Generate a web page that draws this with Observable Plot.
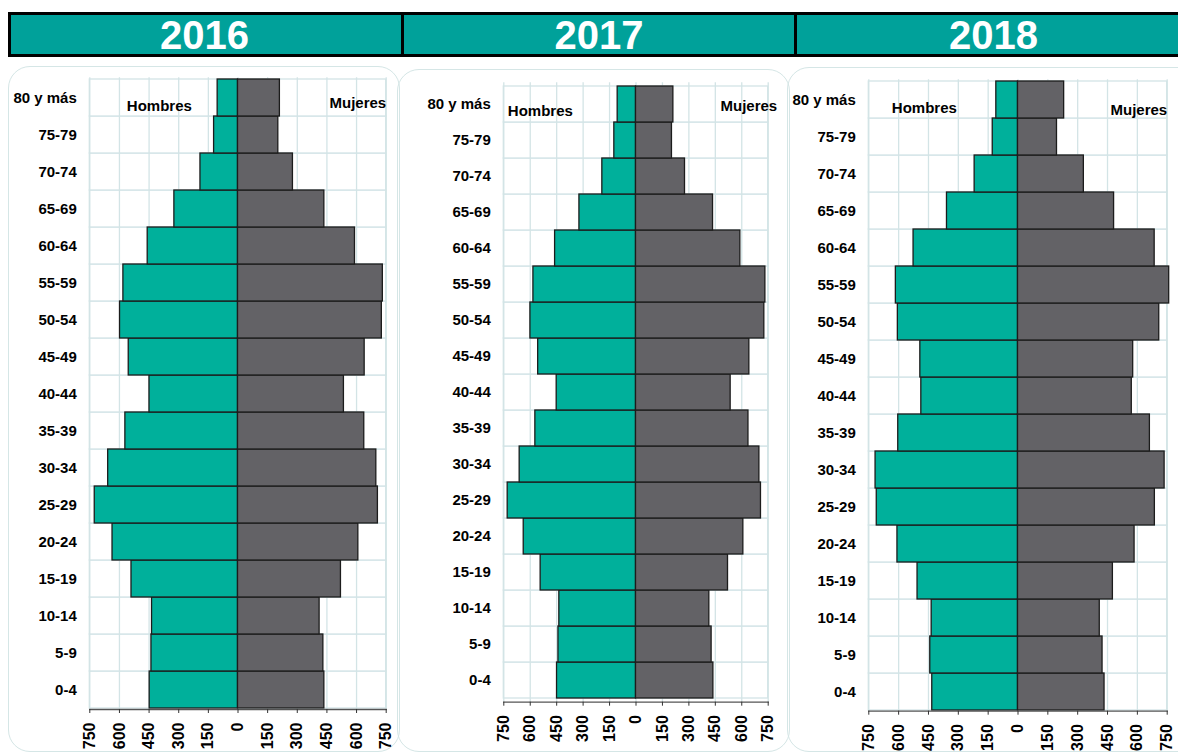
<!DOCTYPE html>
<html><head><meta charset="utf-8">
<script src="https://cdn.jsdelivr.net/npm/d3@7"></script>
<script src="https://cdn.jsdelivr.net/npm/@observablehq/plot@0.6"></script>
<style>
body{margin:0;background:#fff;}
#root{position:relative;width:1178px;height:753px;overflow:hidden;font-family:"Liberation Sans",Arial,sans-serif;}
.panel{position:absolute;border:1.5px solid #d5e6e6;border-radius:22px;box-sizing:border-box;}
.hdr{position:absolute;top:12px;height:45px;left:8px;width:1200px;border:3px solid #000;box-sizing:border-box;background:#00A19A;}
.yr{position:absolute;top:13px;height:45px;line-height:45px;color:#fff;font-weight:bold;font-size:40px;text-align:center;}
.sep{position:absolute;top:12px;height:45px;width:3px;background:#000;}
.plotwrap{position:absolute;}
.plotwrap svg{overflow:visible;}
</style>
</head><body>
<div id="root">
  <div class="panel" style="left:8px;top:66px;width:392px;height:686px;"></div>
  <div class="panel" style="left:397px;top:69px;width:393px;height:683px;"></div>
  <div class="panel" style="left:787px;top:67px;width:420px;height:685px;"></div>
  <div class="hdr"></div>
  <div class="sep" style="left:401px;"></div>
  <div class="sep" style="left:794px;"></div>
  <div id="years"></div>
  <div id="p0" class="plotwrap" style="left:0px;top:60px;"></div>
  <div id="p1" class="plotwrap" style="left:390px;top:60px;"></div>
  <div id="p2" class="plotwrap" style="left:780px;top:60px;"></div>
</div>
<script>
// ---- data ----
const years = ["2016", "2017", "2018"];
const ages = ["0-4","5-9","10-14","15-19","20-24","25-29","30-34","35-39","40-44","45-49","50-54","55-59","60-64","65-69","70-74","75-79","80 y más"];
const hombres2016 = [447,438,435,539,635,725,657,570,448,553,597,580,457,322,190,121,103];
const mujeres2016 = [437,432,413,521,609,708,700,639,536,641,728,733,592,437,278,204,212];
const hombres2017 = [448,440,435,541,637,728,660,571,450,555,599,582,459,321,191,123,104];
const mujeres2017 = [439,429,416,522,609,709,700,638,537,643,728,734,592,437,278,204,212];
const hombres2018 = [431,441,434,505,606,710,716,602,486,491,604,614,525,357,218,127,109];
const mujeres2018 = [435,425,411,477,586,688,737,663,572,579,710,760,687,483,331,196,232];
const tickValues = [-750,-600,-450,-300,-150,0,150,300,450,600,750];
const labelH = "Hombres", labelM = "Mujeres";

const series = [
  {h: hombres2016, m: mujeres2016},
  {h: hombres2017, m: mujeres2017},
  {h: hombres2018, m: mujeres2018}
];

// ---- layout (styles only) ----
const layouts = [
  {w:400, h:693, ml:89.3, mr:14.3, mt:17.3, mb:44, hdx:37, hdy:28, mdx:0, mdy:25},
  {w:400, h:693, ml:113.3, mr:22.3, mt:22.3, mb:51.3, hdx:4, hdy:28, mdx:9, mdy:23},
  {w:398, h:693, ml:88.3, mr:11.3, mt:19.3, mb:42.3, hdx:23, hdy:28, mdx:0, mdy:30}
];
const yearBoxes = [[8,401],[404,794],[797,1190]];

const teal = "#00B09B", gray = "#636266", grid = "#d3e4e6", barStroke = "#1c1c1c";
const font = '"Liberation Sans", Arial, sans-serif';

// year headers
const yd = document.getElementById("years");
years.forEach((y, i) => {
  const [a, b] = yearBoxes[i];
  const el = document.createElement("div");
  el.className = "yr";
  el.style.left = a + "px";
  el.style.width = (b - a) + "px";
  el.textContent = y;
  yd.appendChild(el);
});

series.forEach((s, i) => {
  const L = layouts[i];
  const men = ages.map((a, k) => ({age: a, v: s.h[k]}));
  const women = ages.map((a, k) => ({age: a, v: s.m[k]}));
  const chart = Plot.plot({
    width: L.w, height: L.h,
    marginLeft: L.ml, marginRight: L.mr, marginTop: L.mt, marginBottom: L.mb,
    style: {fontFamily: font, fontWeight: "bold", fontSize: "15px", background: "transparent", color: "#000"},
    x: {domain: [-750, 750], label: null},
    y: {domain: ages.slice().reverse(), padding: 0, label: null},
    marks: [
      Plot.barX(ages, {x1: tickValues[0], x2: tickValues[tickValues.length-1], y: d => d, fill: "white", stroke: grid, strokeWidth: 1.3}),
      Plot.ruleX(tickValues, {stroke: grid, strokeWidth: 1.3}),
      Plot.barX(men, {x1: 0, x2: d => -d.v, y: "age", fill: teal, stroke: barStroke, strokeWidth: 1.3}),
      Plot.barX(women, {x1: 0, x2: d => d.v, y: "age", fill: gray, stroke: barStroke, strokeWidth: 1.3}),
      Plot.frame({anchor: "bottom", stroke: "#555", strokeWidth: 1.3}),
      Plot.axisX(tickValues, {tickFormat: () => "", tickSize: 4, stroke: "#333", label: null}),
      Plot.text(tickValues, {x: d => d, text: d => String(Math.abs(d)), frameAnchor: "bottom", rotate: -90, textAnchor: "end", lineAnchor: "middle", dy: 13, fontSize: 16, fontWeight: "bold", fill: "#000"}),
      Plot.axisY({tickSize: 0, tickPadding: 13, fontSize: 15, fontWeight: "bold", fill: "#000", label: null}),
      Plot.text([labelH], {frameAnchor: "top-left", dx: L.hdx, dy: L.hdy, textAnchor: "start", lineAnchor: "middle", fontSize: 15, fontWeight: "bold", fill: "#000"}),
      Plot.text([labelM], {frameAnchor: "top-right", dx: L.mdx, dy: L.mdy, textAnchor: "end", lineAnchor: "middle", fontSize: 15, fontWeight: "bold", fill: "#000"})
    ]
  });
  document.getElementById("p" + i).appendChild(chart);
});
</script>
</body></html>
